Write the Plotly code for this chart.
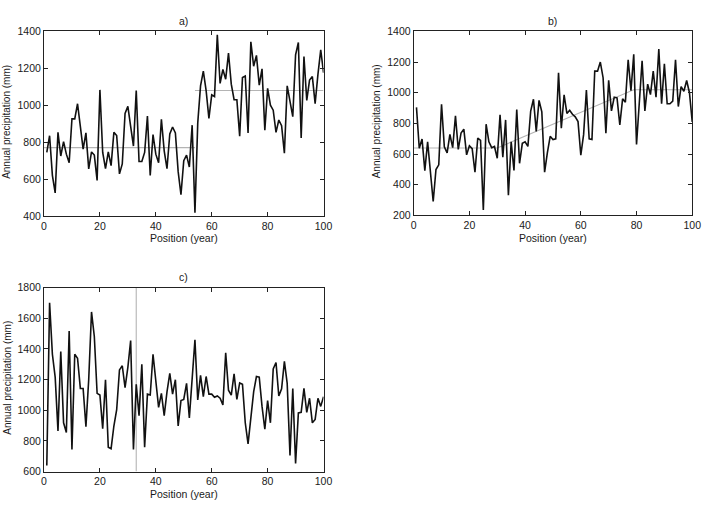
import plotly.graph_objects as go

# ---------------- data ----------------
years = list(range(1, 101))

precip_a = [745, 835, 620, 525, 853, 725, 803, 735, 688, 926,
            926, 1008, 885, 762, 850, 655, 747, 730, 592, 1083,
            744, 656, 747, 673, 853, 836, 628, 682, 956, 994,
            885, 779, 1079, 695, 695, 744, 941, 620, 841, 735,
            688, 924, 753, 656, 845, 882, 850, 640, 515, 700,
            730, 665, 892, 418, 903, 1105, 1185, 1079, 929, 1056,
            1047, 1382, 1118, 1194, 1141, 1282, 1114, 1030, 1030, 832,
            1150, 1158, 850, 1344, 1211, 1270, 1109, 1197, 864, 1091,
            1000, 973, 853, 920, 889, 740, 1105, 1017, 938, 1273,
            1340, 823, 1264, 1026, 1136, 1155, 1009, 1167, 1300, 1176]

precip_b = [905, 638, 698, 492, 680, 465, 291, 500, 530, 925,
            648, 608, 728, 642, 850, 631, 738, 763, 595, 655,
            636, 482, 705, 690, 236, 795, 680, 642, 650, 573,
            857, 580, 823, 332, 680, 493, 890, 540, 670, 680,
            650, 880, 958, 748, 950, 875, 482, 610, 716, 695,
            700, 1130, 769, 986, 865, 886, 860, 843, 812, 593,
            727, 1018, 700, 695, 1141, 1141, 1200, 1098, 737, 1081,
            882, 971, 967, 790, 960, 939, 1215, 1013, 1251, 663,
            933, 1209, 882, 1056, 988, 1141, 971, 1285, 928, 1188,
            928, 928, 945, 1215, 910, 1040, 1010, 1080, 1000, 810]

precip_c = [640, 1700, 1365, 1216, 865, 1382, 918, 855, 1517, 744,
            1365, 1339, 1142, 1142, 893, 1200, 1641, 1481, 1110, 1099,
            880, 1199, 759, 749, 897, 1003, 1263, 1290, 1148, 1280,
            1454, 744, 1169, 965, 1300, 759, 1105, 1099, 1365, 1195,
            1018, 1110, 965, 1120, 1241, 1105, 1199, 897, 1063, 1070,
            1175, 950, 1200, 1460, 1067, 1227, 1088, 1220, 1105, 1105,
            1084, 1093, 1078, 1035, 1375, 1131, 1099, 1237, 1071, 1178,
            1169, 918, 780, 961, 1120, 1220, 1216, 1025, 876, 1063,
            918, 1269, 1311, 1093, 1140, 1318, 1175, 705, 1142, 653,
            982, 986, 1142, 986, 1078, 918, 940, 1078, 1025, 1088]

# fitted segments (gray)
a_fit_x = [0, 54, None, 54, 100]
a_fit_y = [770, 770, None, 1080, 1080]
b_fit_x = [0, 30, 79, 100]
b_fit_y = [640, 640, 1020, 1020]
c_change_x = [33, 33]
c_change_y = [600, 1800]

panel_titles = ["a)", "b)", "c)"]
x_title = "Position (year)"
y_title = "Annual precipitation (mm)"
y_ranges = [[400, 1400], [200, 1400], [600, 1800]]

# ---------------- figure ----------------
W, H = 715, 513
FONT = "Liberation Sans, Arial, sans-serif"
TXT = "#1a1a1a"
GRAY = "#b4b4b4"

def px(x):
    return x / W

def py(y):
    return 1 - y / H

# panel boxes in pixels: (left, right, top, bottom)
boxes = [(41.7, 326.0, 26.0, 215.0),
         (417.7, 701.0, 26.0, 214.5),
         (41.7, 326.0, 288.3, 476.7)]

fig = go.Figure()

series = [precip_a, precip_b, precip_c]
fits = [(a_fit_x, a_fit_y), (b_fit_x, b_fit_y), (c_change_x, c_change_y)]

for i in range(3):
    ax = "" if i == 0 else str(i + 1)
    fx, fy = fits[i]
    fig.add_trace(go.Scatter(x=fx, y=fy, mode="lines",
                             line=dict(color=GRAY, width=1.1),
                             connectgaps=False,
                             xaxis="x" + ax, yaxis="y" + ax,
                             showlegend=False, hoverinfo="skip"))
    fig.add_trace(go.Scatter(x=years, y=series[i], mode="lines",
                             line=dict(color="#111111", width=1.6),
                             xaxis="x" + ax, yaxis="y" + ax,
                             showlegend=False))

layout = dict(width=W, height=H, margin=dict(l=0, r=0, t=0, b=0),
              paper_bgcolor="white", plot_bgcolor="white",
              font=dict(family=FONT, size=10.5, color=TXT))

annotations = []
for i, (l, r, t, b) in enumerate(boxes):
    ax = "" if i == 0 else str(i + 1)
    common = dict(showline=True, linecolor="#222222", linewidth=1,
                  mirror="ticks", ticks="inside", ticklen=4,
                  tickcolor="#222222", showgrid=False, zeroline=False,
                  tickfont=dict(family=FONT, size=10.5, color=TXT))
    layout["xaxis" + ax] = dict(domain=[px(l), px(r)], range=[0, 100],
                                tickvals=[0, 20, 40, 60, 80, 100],
                                anchor="y" + ax, **common)
    layout["yaxis" + ax] = dict(domain=[py(b), py(t)], range=y_ranges[i],
                                dtick=200, anchor="x" + ax, **common)
    cx = (l + r) / 2
    cy = (t + b) / 2
    annotations.append(dict(text=panel_titles[i], x=px(cx), y=py(t - 11),
                            xref="paper", yref="paper", showarrow=False,
                            xanchor="center", yanchor="middle",
                            font=dict(family=FONT, size=10.5, color=TXT)))
    annotations.append(dict(text=x_title, x=px(cx), y=py(b + 23),
                            xref="paper", yref="paper", showarrow=False,
                            xanchor="center", yanchor="middle",
                            font=dict(family=FONT, size=10.5, color=TXT)))
    annotations.append(dict(text=y_title, x=px(l - 37.5), y=py(cy - 2),
                            xref="paper", yref="paper", showarrow=False,
                            textangle=-90, xanchor="center", yanchor="middle",
                            font=dict(family=FONT, size=10, color=TXT)))

layout["annotations"] = annotations
fig.update_layout(**layout)

fig.write_html("out.html", config={"displayModeBar": False})
